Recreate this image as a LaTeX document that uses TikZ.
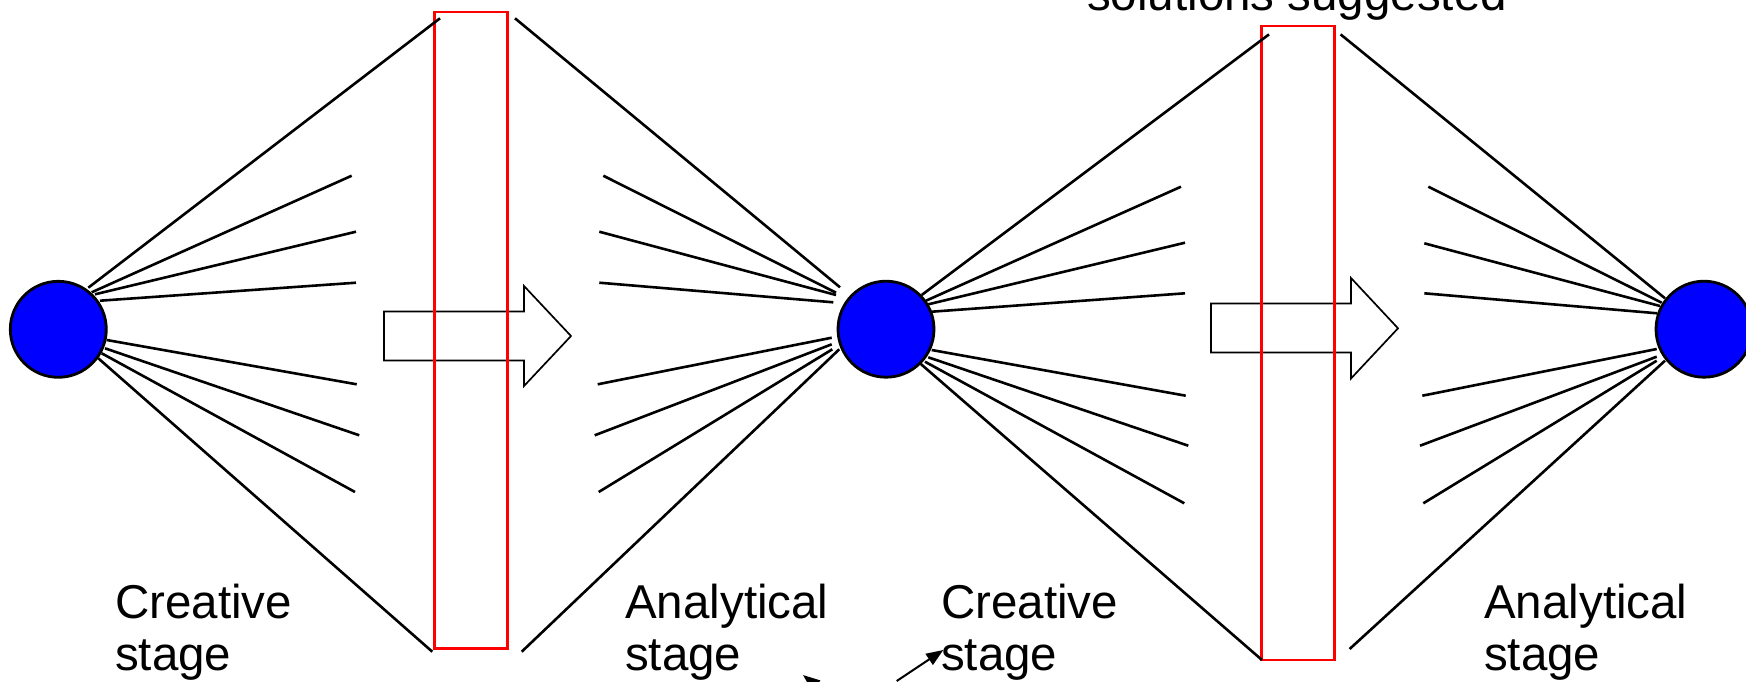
\documentclass[tikz,border=0pt]{standalone}
\usepackage{fontspec}
\setmainfont{Liberation Sans}
\usetikzlibrary{arrows.meta}
\definecolor{hubblue}{RGB}{0,0,255}
\definecolor{barred}{RGB}{255,0,0}
\begin{document}
\begin{tikzpicture}[x=1pt,y=-1pt,
  hub/.style={circle,draw=black,line width=2.8pt,fill=hubblue,minimum size=96pt,inner sep=0pt},
  ray/.style={draw=black,line width=2.6pt},
  bar/.style={draw=barred,line width=2.8pt},
  blockarrow/.style={draw=black,line width=1.7pt,fill=white,line join=miter},
  label/.style={align=left,anchor=base west,inner sep=0pt,font=\fontsize{47.5}{52}\selectfont},
  pointer/.style={draw=black,line width=2pt,-{Triangle[length=17pt,width=13pt]}}]
\useasboundingbox (0,0) rectangle (1746,681);
\clip (0,0) rectangle (1746,681);

% the three decision points
\node[hub] (h1) at (58.3,329.3) {};
\node[hub] (h2) at (886,329.2) {};
\node[hub] (h3) at (1704,329.2) {};

% block arrows between the fans
\path[blockarrow] (384,311.5) -- (524,311.5) -- (524,286) -- (571,336) -- (524,386) -- (524,360.5) -- (384,360.5) -- cycle;
\path[blockarrow] (1211,303.5) -- (1351,303.5) -- (1351,278) -- (1398,328.3) -- (1351,378.5) -- (1351,352.5) -- (1211,352.5) -- cycle;

% selection bars
\draw[bar] (434.3,12) rectangle (507.3,648.7);
\draw[bar] (1261.7,26) rectangle (1334.3,660);

% creative stage 1: rays leaving the first hub
\foreach \ax/\ay/\bx/\by [count=\i] in {
  88.3/287.7/440/18.3, 91.7/292.3/351.7/175.7, 95/294.3/356/231.7, 100/300.7/356/282.7,
  106.7/340/356.7/384.3, 105/348.3/359.3/435.3, 101.7/353.3/355/492, 98.3/358.3/432.3/651.7}{
  \coordinate (a\i s) at (\ax,\ay);
  \coordinate (a\i e) at (\bx,\by);
  \draw[ray] (a\i s) -- (a\i e);
}
% analytical stage 1: rays converging on the second hub
\foreach \ax/\ay/\bx/\by [count=\i] in {
  515/18.3/840/287.3, 603.3/175.7/836/292.7, 599.3/231.7/836/295, 599.3/282.7/833.3/302.3,
  597.7/384.3/831.7/337.7, 594.7/435.3/831.7/344.3, 598.7/492/832.3/349.3, 521.7/651.7/839.3/349.3}{
  \coordinate (b\i s) at (\ax,\ay);
  \coordinate (b\i e) at (\bx,\by);
  \draw[ray] (b\i s) -- (b\i e);
}
% creative stage 2
\foreach \ax/\ay/\bx/\by [count=\i] in {
  921.7/295/1269/34.4, 926/300.7/1181/186.7, 928.3/304.3/1185/242.7, 931.7/311.7/1185/293.3,
  931.7/350/1185.7/395.7, 928.3/357.3/1188.3/445.7, 925/361.7/1184.3/503.3, 920/363.3/1262/660}{
  \coordinate (c\i s) at (\ax,\ay);
  \coordinate (c\i e) at (\bx,\by);
  \draw[ray] (c\i s) -- (c\i e);
}
% analytical stage 2
\foreach \ax/\ay/\bx/\by [count=\i] in {
  1340.6/34.4/1665/298.3, 1428.3/186.7/1661.7/302.7, 1424.3/243.3/1660/306, 1424.3/293.3/1657.3/313.3,
  1422.3/395.7/1656.7/349, 1420/445.7/1656.7/356.7, 1423.3/503.3/1656.7/360.7, 1349.6/649/1665/360.7}{
  \coordinate (d\i s) at (\ax,\ay);
  \coordinate (d\i e) at (\bx,\by);
  \draw[ray] (d\i s) -- (d\i e);
}

% stage labels (anchored on the baseline of their last line)
\node[label] (l1) at (115,670) {Creative\\stage};
\node[label] (l2) at (625,670) {Analytical\\stage};
\node[label] (l3) at (941,670) {Creative\\stage};
\node[label] (l4) at (1484,670) {Analytical\\stage};
\node[label] (top) at (1087,10) {solutions suggested};

% feedback pointers
\coordinate (p1tail) at (896.7,681);
\coordinate (p1tip) at (943.3,650);
\draw[pointer] (p1tail) -- (p1tip);
\coordinate (p2tail) at (840,705);
\coordinate (p2tip) at (803,675);
\draw[pointer] (p2tail) -- (p2tip);
\end{tikzpicture}
\end{document}
